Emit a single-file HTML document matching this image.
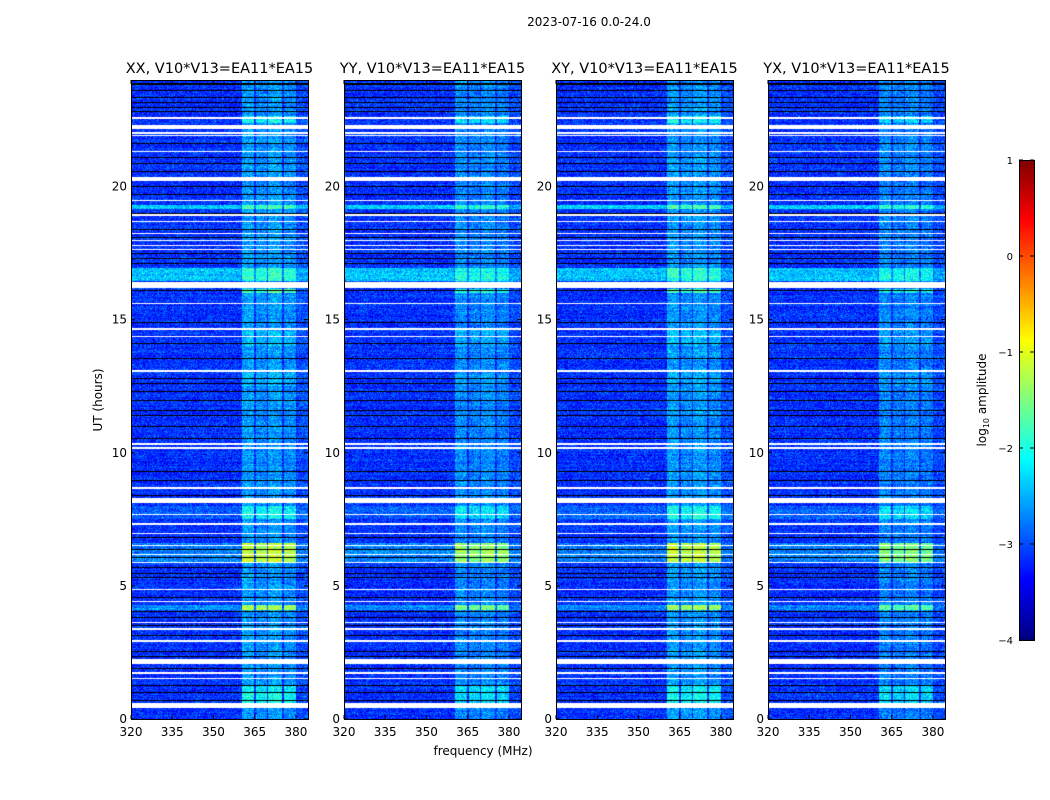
<!DOCTYPE html>
<html><head><meta charset="utf-8">
<style>
body{margin:0;background:#fff;}
#wrap{position:relative;width:1050px;height:800px;background:#fff;overflow:hidden;font-family:"DejaVu Sans","Liberation Sans",sans-serif;}
canvas{position:absolute;}
svg{position:absolute;left:0;top:0;}
text{font-family:"DejaVu Sans","Liberation Sans",sans-serif;fill:#000;}
</style></head>
<body>
<div id="wrap">
<canvas id="c0" width="177" height="639" style="left:131px;top:80px"></canvas>
<canvas id="c1" width="177" height="639" style="left:344px;top:80px"></canvas>
<canvas id="c2" width="177" height="639" style="left:556px;top:80px"></canvas>
<canvas id="c3" width="177" height="639" style="left:768px;top:80px"></canvas>
<canvas id="cb" width="15" height="480" style="left:1019px;top:160px"></canvas>
<svg id="ov" width="1050" height="800">
<text x="589" y="26" font-size="12" text-anchor="middle">2023-07-16 0.0-24.0</text>
<text x="483" y="755" font-size="12" text-anchor="middle">frequency (MHz)</text>
<text transform="translate(102,400) rotate(-90)" font-size="12" text-anchor="middle">UT (hours)</text>
<text transform="translate(986,400) rotate(-90)" font-size="12" text-anchor="middle">log<tspan font-size="8" dy="3">10</tspan><tspan dy="-3"> amplitude</tspan></text>
</svg>
</div>
<script>
// ---- data ----
const panelTitles = ["XX, V10*V13=EA11*EA15","YY, V10*V13=EA11*EA15","XY, V10*V13=EA11*EA15","YX, V10*V13=EA11*EA15"];
const panelBandGain = [1.0, 0.85, 1.0, 0.8];
const xTicks = [320,335,350,365,380];
const yTicks = [0,5,10,15,20];
const cbTicks = [1,0,-1,-2,-3,-4];
const freqRange = [320, 384.4];
const timeRange = [0, 24];
const cbRange = [-4, 1];
const baseLevel = -3.15;
// frequency bands
const bandLo = [360.4, 365.5, 370.0, 375.6, 380.5];
const bandHi = [364.9, 369.5, 374.8, 380.0, 384.4];
const bandBoost = [0.55, 0.45, 0.55, 0.45, 0.15];
// bright time intervals: start, end, broadband boost, band boost
const brightStart = [16.45, 19.15, 5.9, 4.1, 0.6, 22.4, 7.5, 16.0, 14.0, 12.5];
const brightEnd   = [16.95, 19.30, 6.6, 4.3, 1.25, 22.65, 8.0, 16.15, 14.6, 13.0];
const brightBroad = [0.75, 0.8, 0.4, 0.45, 0.0, 0.0, 0.25, 0.0, 0.0, 0.0];
const brightBand  = [0.3, 0.4, 1.25, 1.05, 0.55, 0.55, 0.4, 0.9, 0.2, 0.15];
// white (flagged) gaps [start,end] in hours
const gapStart = [22.55,22.15,21.98,21.88,21.3,20.2,19.45,18.9,18.65,18.2,17.95,17.75,17.6,16.2,15.58,14.62,14.35,13.05,10.3,10.15,8.65,8.1,7.65,7.3,6.95,6.5,6.15,5.85,4.85,4.38,3.6,3.35,2.9,2.07,1.7,1.5,0.4,0.02];
const gapEnd   = [22.6,22.32,22.03,21.93,21.35,20.36,19.5,18.95,18.7,18.25,18.0,17.8,17.65,16.4,15.63,14.67,14.4,13.1,10.35,10.2,8.7,8.3,7.7,7.35,7.0,6.55,6.2,5.9,4.9,4.43,3.65,3.4,2.95,2.25,1.75,1.55,0.6,0.05];
// black (zero) lines in hours
const blackLines = [23.85,23.6,23.35,23.15,22.95,22.8,21.6,21.1,20.85,20.55,20.0,19.7,19.0,18.4,18.1,17.5,17.3,17.1,16.1,14.9,14.1,13.55,12.8,12.6,12.3,11.95,11.6,11.4,11.0,10.55,9.3,8.95,8.4,6.8,6.35,6.05,5.7,5.45,5.3,4.55,4.05,3.8,3.5,3.15,2.55,2.35,1.9,1.25,1.0,0.7];

// ---- helpers ----
function jet(v){
  let t=(v-cbRange[0])/(cbRange[1]-cbRange[0]); t=Math.max(0,Math.min(1,t));
  const c=x=>Math.max(0,Math.min(1,x));
  const r=c(1.5-Math.abs(4*t-3)), g=c(1.5-Math.abs(4*t-2)), b=c(1.5-Math.abs(4*t-1));
  return [r*255|0,g*255|0,b*255|0];
}
function hash(a,b){let h=(a*374761393+b*668265263)^0x5bd1e995;h=(h^(h>>>13))*1274126177;h=h^(h>>>16);return ((h>>>0)%10000)/10000;}
const W=177,H=639;
const xOf=(f,L)=>L+(f-freqRange[0])/(freqRange[1]-freqRange[0])*W;
const yOf=t=>80+H-(t-timeRange[0])/(timeRange[1]-timeRange[0])*H;

for(let p=0;p<4;p++){
  const cv=document.getElementById('c'+p), ctx=cv.getContext('2d');
  const img=ctx.createImageData(W,H);
  for(let y=0;y<H;y++){
    const t=timeRange[1]-(y+0.5)/H*(timeRange[1]-timeRange[0]);
    let broad=0,bandx=0;
    for(let i=0;i<brightStart.length;i++) if(t>=brightStart[i]&&t<brightEnd[i]){broad+=brightBroad[i];bandx+=brightBand[i];}
    let white=false;
    for(let i=0;i<gapStart.length;i++) if(t>=gapStart[i]&&t<gapEnd[i]) white=true;
    let black=false;
    for(const b of blackLines) if(Math.abs(t-b)<0.02) black=true;
    const rowVar=(hash(y,p*7+3)-0.5)*0.2;
    for(let x=0;x<W;x++){
      const f=freqRange[0]+(x+0.5)/W*(freqRange[1]-freqRange[0]);
      let v=baseLevel+rowVar;
      const n=(hash(x+p*1000,y)+hash(y+p*500,x+77)-1)*0.55;
      v+=n;
      let inBand=false;
      for(let i=0;i<bandLo.length;i++) if(f>=bandLo[i]&&f<bandHi[i]){v+=bandBoost[i]*panelBandGain[p];if(i<4)inBand=true;}
      v+=broad*(f<360?1:0.6);
      if(inBand) v+=bandx*panelBandGain[p];
      let col=jet(v);
      if(white) col=[255,255,255];
      else if(black) col=[0,0,0];
      const k=(y*W+x)*4;
      img.data[k]=col[0];img.data[k+1]=col[1];img.data[k+2]=col[2];img.data[k+3]=255;
    }
  }
  ctx.putImageData(img,0,0);
}
// colorbar
(function(){
  const ctx=document.getElementById('cb').getContext('2d');
  for(let y=0;y<480;y++){const v=cbRange[1]-(y+0.5)/480*(cbRange[1]-cbRange[0]);const c=jet(v);ctx.fillStyle=`rgb(${c[0]},${c[1]},${c[2]})`;ctx.fillRect(0,y,15,1);}
})();

// axes
const svg=document.getElementById('ov');
const NS='http://www.w3.org/2000/svg';
function mk(tag,attrs){const e=document.createElementNS(NS,tag);for(const k in attrs)e.setAttribute(k,attrs[k]);svg.appendChild(e);return e;}
const lefts=[131,344,556,768];
for(let p=0;p<4;p++){
  const L=lefts[p];
  const fr=mk('rect',{x:L+0.5,y:80.5,width:W,height:H,fill:'none',stroke:'#000','stroke-width':1});
  
  
  const tt=mk('text',{x:L+W/2,y:73,'font-size':14.5,'text-anchor':'middle'});
  tt.textContent=panelTitles[p];
  
  
  xTicks.forEach(v=>{
    const x=xOf(v,L);
    mk('line',{x1:x,x2:x,y1:719,y2:715,stroke:'#000'});
    mk('line',{x1:x,x2:x,y1:80,y2:84,stroke:'#000'});
    const tx=mk('text',{x:x,y:736,'font-size':12,'text-anchor':'middle'});
    tx.textContent=v;
    
    
  });
  yTicks.forEach(v=>{
    const y=yOf(v);
    mk('line',{x1:L,x2:L+4,y1:y,y2:y,stroke:'#000'});
    mk('line',{x1:L+W,x2:L+W-4,y1:y,y2:y,stroke:'#000'});
    const ty=mk('text',{x:L-4,y:y+4,'font-size':12,'text-anchor':'end'});
    ty.textContent=v;
    
    
  });
}
const cbf=mk('rect',{x:1019.5,y:160.5,width:15,height:480,fill:'none',stroke:'#000'});


cbTicks.forEach(v=>{
  const y=160+(cbRange[1]-v)/(cbRange[1]-cbRange[0])*480;
  mk('line',{x1:1019,x2:1023,y1:y,y2:y,stroke:'#000'});
  mk('line',{x1:1034,x2:1030,y1:y,y2:y,stroke:'#000'});
  const t=mk('text',{x:1013,y:y+4,'font-size':10,'text-anchor':'end'});
  t.textContent=(v<0?'\u2212'+(-v):v);
  
  
});
</script>
</body></html>
